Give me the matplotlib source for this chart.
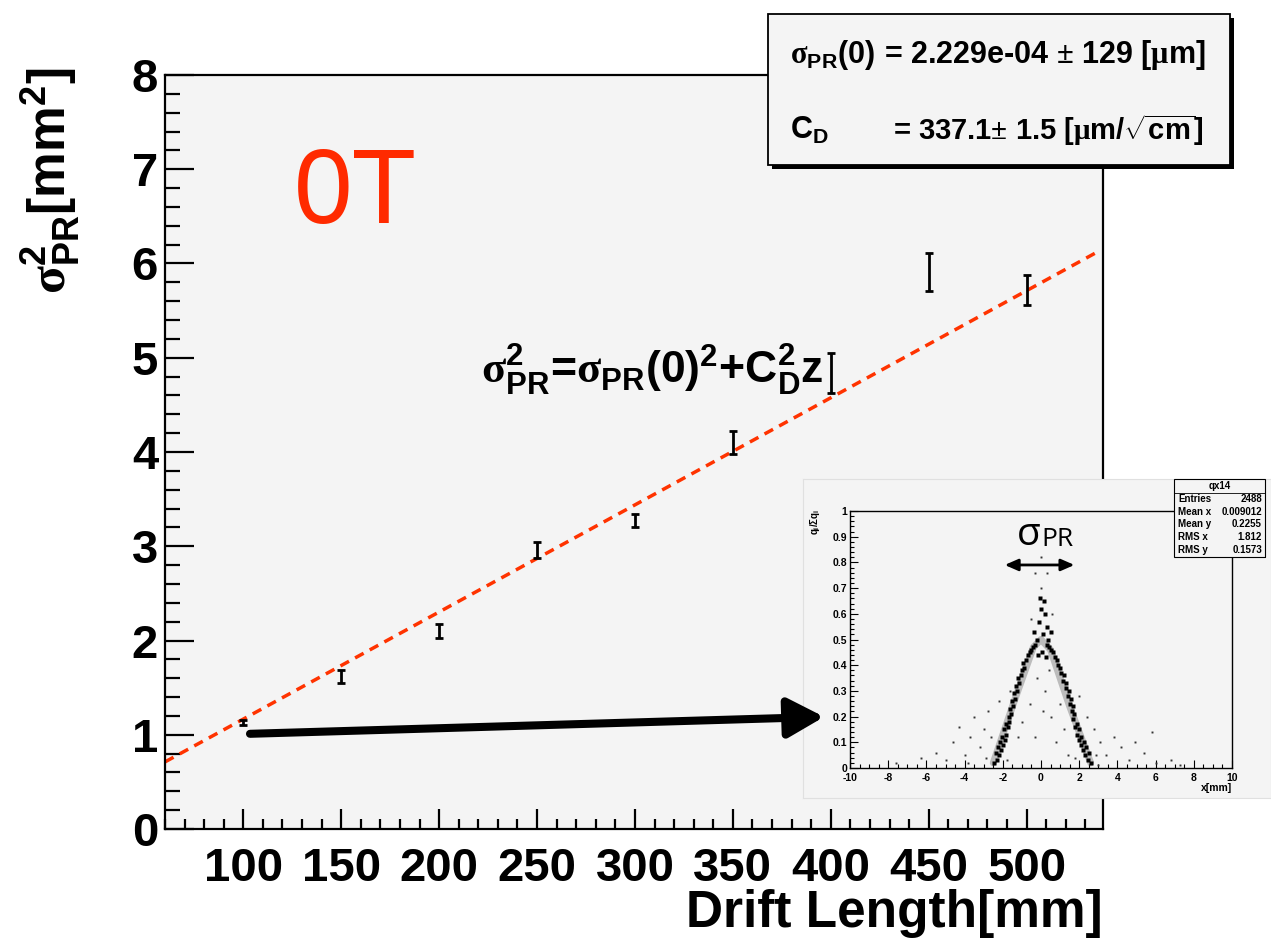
import numpy as np
import matplotlib
matplotlib.use("Agg")
import matplotlib.pyplot as plt
from matplotlib.patches import Rectangle, FancyArrowPatch
from matplotlib.ticker import MultipleLocator, FuncFormatter

plt.rcParams["font.family"] = ["Liberation Sans", "DejaVu Sans"]
plt.rcParams["font.weight"] = "bold"
plt.rcParams["axes.labelweight"] = "bold"
plt.rcParams["axes.unicode_minus"] = False
plt.rcParams["mathtext.fontset"] = "custom"
plt.rcParams["mathtext.rm"] = "Liberation Sans:bold"
plt.rcParams["mathtext.it"] = "Liberation Sans:bold"
plt.rcParams["mathtext.bf"] = "Liberation Sans:bold"
plt.rcParams["mathtext.sf"] = "Liberation Serif"

# main plot: sigma_PR^2 vs drift length
drift = [100, 150, 200, 250, 300, 350, 400, 450, 500]
sigma2 = [1.13, 1.62, 2.10, 2.96, 3.27, 4.10, 4.84, 5.91, 5.72]
sigma2_err = [0.03, 0.07, 0.07, 0.08, 0.07, 0.12, 0.21, 0.20, 0.16]

fit_intercept = 0.03
fit_slope = 0.011364  # C_D^2 in mm^2/mm
fit_range = [60, 535]

# inset: charge fraction vs x (hand-read points)
band_x = [-2.45, -2.3, -2.2, -2.35, -2.1, -2.25, -2.0, -2.15, -1.9, -2.05, -1.85, -1.95,
          -1.75, -1.85, -1.65, -1.7, -1.55, -1.6, -1.45, -1.5, -1.35, -1.4, -1.25, -1.3,
          -1.15, -1.2, -1.05, -1.0, -0.9, -0.95, -0.8, -0.7, -0.6, -0.5, -0.4, -0.3,
          2.6, 2.45, 2.3, 2.5, 2.2, 2.35, 2.1, 2.25, 2.0, 2.1, 1.9, 2.0, 1.8, 1.9, 1.7,
          1.75, 1.6, 1.65, 1.5, 1.55, 1.4, 1.45, 1.3, 1.3, 1.15, 1.2, 1.05, 1.0, 0.9,
          0.85, 0.75, 0.65, 0.5, 0.4, 0.3,
          -0.2, 0.1, 0.3, -0.1, 0.2, 0.0, 0.15, -0.05, 0.35, 0.5, -0.35, 0.05, 0.25, -0.15]
band_y = [0.02, 0.03, 0.05, 0.06, 0.07, 0.08, 0.09, 0.10, 0.11, 0.12, 0.13, 0.15,
          0.16, 0.17, 0.18, 0.20, 0.21, 0.23, 0.24, 0.26, 0.27, 0.29, 0.30, 0.32,
          0.33, 0.35, 0.36, 0.38, 0.39, 0.41, 0.42, 0.44, 0.45, 0.46, 0.47, 0.48,
          0.02, 0.03, 0.05, 0.06, 0.07, 0.08, 0.09, 0.10, 0.11, 0.12, 0.13, 0.15, 0.16,
          0.17, 0.19, 0.21, 0.22, 0.24, 0.25, 0.27, 0.28, 0.30, 0.31, 0.33, 0.34, 0.36,
          0.37, 0.39, 0.40, 0.42, 0.43, 0.45, 0.46, 0.47, 0.48,
          0.50, 0.52, 0.55, 0.57, 0.60, 0.62, 0.65, 0.66, 0.50, 0.53, 0.53, 0.45, 0.43, 0.44]
# rough centre line of the dense band
ridge_x = [-2.5, -1.4, -0.4, 0.0, 0.5, 1.5, 2.6]
ridge_y = [0.02, 0.26, 0.47, 0.50, 0.46, 0.24, 0.02]
halo_x = [0.0, -0.3, 0.3, 0.0, -7.6, -6.3, -5.5, -5.0, -4.6, -4.3, -4.0, -3.7, -3.5,
          -3.2, -3.0, -2.8, -2.6, -2.2, -1.6, -1.0, -0.6, -0.3, 0.2, 0.5, 0.8, 1.0,
          1.4, 2.0, 2.4, 2.8, 3.1, 3.4, 3.8, 4.2, 4.6, 4.9, 5.4, 5.8, 6.0, 6.8, 7.3,
          -3.8, -1.8, 1.8, 3.0, -0.5, 0.6, -0.2, 0.4, 0.1, -2.9, 2.9, -1.2, 1.2]
halo_y = [0.70, 0.76, 0.76, 0.82, 0.02, 0.04, 0.06, 0.03, 0.10, 0.16, 0.05, 0.12, 0.20,
          0.08, 0.15, 0.22, 0.12, 0.26, 0.30, 0.18, 0.25, 0.12, 0.30, 0.20, 0.10, 0.25,
          0.05, 0.28, 0.20, 0.15, 0.10, 0.05, 0.12, 0.08, 0.03, 0.10, 0.06, 0.14, 0.02,
          0.03, 0.01, 0.02, 0.03, 0.04, 0.01, 0.58, 0.60, 0.35, 0.38, 0.22, 0.04, 0.05,
          0.12, 0.15]

inset_stat_names = ["Entries", "Mean x", "Mean y", "RMS x", "RMS y"]
inset_stat_vals = ["2488", "0.009012", "0.2255", "1.812", "0.1573"]

W, H = 1271, 938
fig = plt.figure(figsize=(W / 100, H / 100), dpi=100)


def fx(px):
    return px / W


def fy(py):
    return 1 - py / H


ax = fig.add_axes([fx(165), fy(829), fx(1103) - fx(165), fy(75) - fy(829)], zorder=0)
ax.set_facecolor("#f4f4f4")
ax.set_xlim(60, 539)
ax.set_ylim(0, 8)
for s in ax.spines.values():
    s.set_linewidth(1.6)

ax.xaxis.set_minor_locator(MultipleLocator(10))
ax.yaxis.set_major_locator(MultipleLocator(1))
ax.yaxis.set_minor_locator(MultipleLocator(0.2))
ax.set_xticks([100, 150, 200, 250, 300, 350, 400, 450, 500])
ax.tick_params(which="both", direction="in", top=False, right=False, width=1.6)
ax.tick_params(axis="y", which="major", length=21, pad=5, labelsize=34)
ax.tick_params(axis="y", which="minor", length=11)
ax.tick_params(axis="x", which="major", length=14.5, pad=13, labelsize=34)
ax.tick_params(axis="x", which="minor", length=7.5)

ax.set_ylabel(r"$\mathsf{\sigma}^{2}_{PR}$[mm$^{2}$]", fontsize=37, loc="top")
ax.yaxis.set_label_coords(-0.088, 1.01)
ax.set_xlabel("Drift Length[mm]", fontsize=37, loc="right")
ax.xaxis.set_label_coords(1.0, -0.079)

ax.errorbar(drift, sigma2, yerr=sigma2_err, fmt="none", ecolor="black",
            elinewidth=2, capsize=3, capthick=2, zorder=3)
xs = np.array(fit_range, dtype=float)
ax.plot(xs, fit_intercept + fit_slope * xs, color="#ff3300", lw=2.5,
        linestyle=(0, (2.8, 2.0)), zorder=2)

ax.text(157, 6.72, "0T", color="#ff2a00", fontsize=76, fontweight="normal",
        ha="center", va="center")
ax.text(309, 4.87, r"$\mathsf{\sigma}^{2}_{PR}$=$\mathsf{\sigma}_{PR}$(0)$^{2}$+C$^{2}_{D}$z",
        fontsize=32, ha="center", va="center")

# stats box with shadow
bx0, by0, bx1, by1 = 768, 14, 1230, 165
fig.add_artist(Rectangle((fx(bx0 + 4), fy(by1 + 4)), fx(bx1) - fx(bx0), fy(by0) - fy(by1),
                         transform=fig.transFigure, fc="black", ec="none", zorder=5))
fig.add_artist(Rectangle((fx(bx0), fy(by1)), fx(bx1) - fx(bx0), fy(by0) - fy(by1),
                         transform=fig.transFigure, fc="#f4f4f4", ec="black", lw=1.3, zorder=5.1))
fig.text(fx(790), fy(55), r"$\mathsf{\sigma}_{PR}$(0)", fontsize=22, va="center", zorder=6)
fig.text(fx(884), fy(55), r"= 2.229e-04 $\mathsf{\pm}$ 129 [$\mathsf{\mu}$m]",
         fontsize=22, va="center", zorder=6)
fig.text(fx(790), fy(130), r"C$_{D}$", fontsize=22, va="center", zorder=6)
fig.text(fx(893), fy(130), r"= 337.1$\mathsf{\pm}$ 1.5 [$\mathsf{\mu}$m/$\sqrt{cm}$]",
         fontsize=21, va="center", zorder=6)

# inset picture
bg = fig.add_axes([fx(803), fy(798), fx(1271) - fx(803), fy(479) - fy(798)], zorder=1)
bg.set_facecolor("#f4f4f4")
bg.set_xticks([])
bg.set_yticks([])
for s in bg.spines.values():
    s.set_edgecolor("#e0e0e0")

axi = fig.add_axes([fx(850), fy(768), fx(1232) - fx(850), fy(511) - fy(768)], zorder=2)
axi.set_facecolor("#f4f4f4")
axi.set_xlim(-10, 10)
axi.set_ylim(0, 1)
axi.xaxis.set_major_locator(MultipleLocator(2))
axi.xaxis.set_minor_locator(MultipleLocator(0.5))
axi.yaxis.set_major_locator(MultipleLocator(0.1))
axi.yaxis.set_minor_locator(MultipleLocator(0.02))
axi.yaxis.set_major_formatter(FuncFormatter(lambda v, p: f"{v:g}"))
axi.tick_params(which="both", direction="in", top=False, right=False, labelsize=7.5, width=0.8)
axi.tick_params(which="major", length=6, pad=2)
axi.tick_params(axis="x", which="major", pad=3.5)
axi.tick_params(which="minor", length=3)
for s in axi.spines.values():
    s.set_linewidth(1.0)
axi.set_xlabel("x[mm]", fontsize=7.5, loc="right", labelpad=0)
axi.plot(ridge_x, ridge_y, color="#555555", lw=5, alpha=0.35, solid_capstyle="round")
axi.plot(band_x, band_y, "s", ms=2.6, color="black", mec="none")
axi.plot(halo_x, halo_y, "s", ms=1.4, color="#333333", mec="none")
axi.annotate("", xy=(1.75, 0.79), xytext=(-1.9, 0.79),
             arrowprops=dict(arrowstyle="<|-|>,head_length=0.8,head_width=0.35",
                             lw=2, color="black", shrinkA=0, shrinkB=0))
axi.text(0.0, 0.905, "σ", fontsize=28, fontweight="normal", family="Open Sans",
         ha="right", va="center")
axi.text(0.0, 0.89, "PR", fontsize=19, fontweight="normal", family="Open Sans",
         ha="left", va="center")
fig.text(fx(815), fy(522), r"$q_{i}/\Sigma q_{i}$", fontsize=7, rotation=90,
         ha="center", va="center", zorder=3)

# inset stats box
sx0, sy0, sx1, sy1 = 1174, 479, 1265, 557
fig.add_artist(Rectangle((fx(sx0 + 1), fy(sy1 + 1)), fx(sx1) - fx(sx0), fy(sy0) - fy(sy1),
                         transform=fig.transFigure, fc="black", ec="none", zorder=5))
fig.add_artist(Rectangle((fx(sx0), fy(sy1)), fx(sx1) - fx(sx0), fy(sy0) - fy(sy1),
                         transform=fig.transFigure, fc="#f4f4f4", ec="black", lw=0.8, zorder=5.1))
fig.add_artist(plt.Line2D([fx(sx0), fx(sx1)], [fy(493), fy(493)], transform=fig.transFigure,
                          color="black", lw=0.6, zorder=6))
fig.text((fx(sx0) + fx(sx1)) / 2, fy(486), "qx14", fontsize=7, ha="center", va="center", zorder=6)
for i, (nm, vl) in enumerate(zip(inset_stat_names, inset_stat_vals)):
    yy = fy(499 + 12.7 * i)
    fig.text(fx(sx0 + 4), yy, nm, fontsize=7, ha="left", va="center", zorder=6)
    fig.text(fx(sx1 - 3), yy, vl, fontsize=7, ha="right", va="center", zorder=6)

# big arrow from first point to the inset
arrow = FancyArrowPatch((103.4, 1.01), (396.6, 1.19), transform=ax.transData,
                        arrowstyle="-|>,head_length=22,head_width=12", mutation_scale=1,
                        lw=5.8, color="black", shrinkA=0, shrinkB=0, zorder=5)
fig.add_artist(arrow)

fig.savefig("out.png", dpi=100, facecolor="white")
